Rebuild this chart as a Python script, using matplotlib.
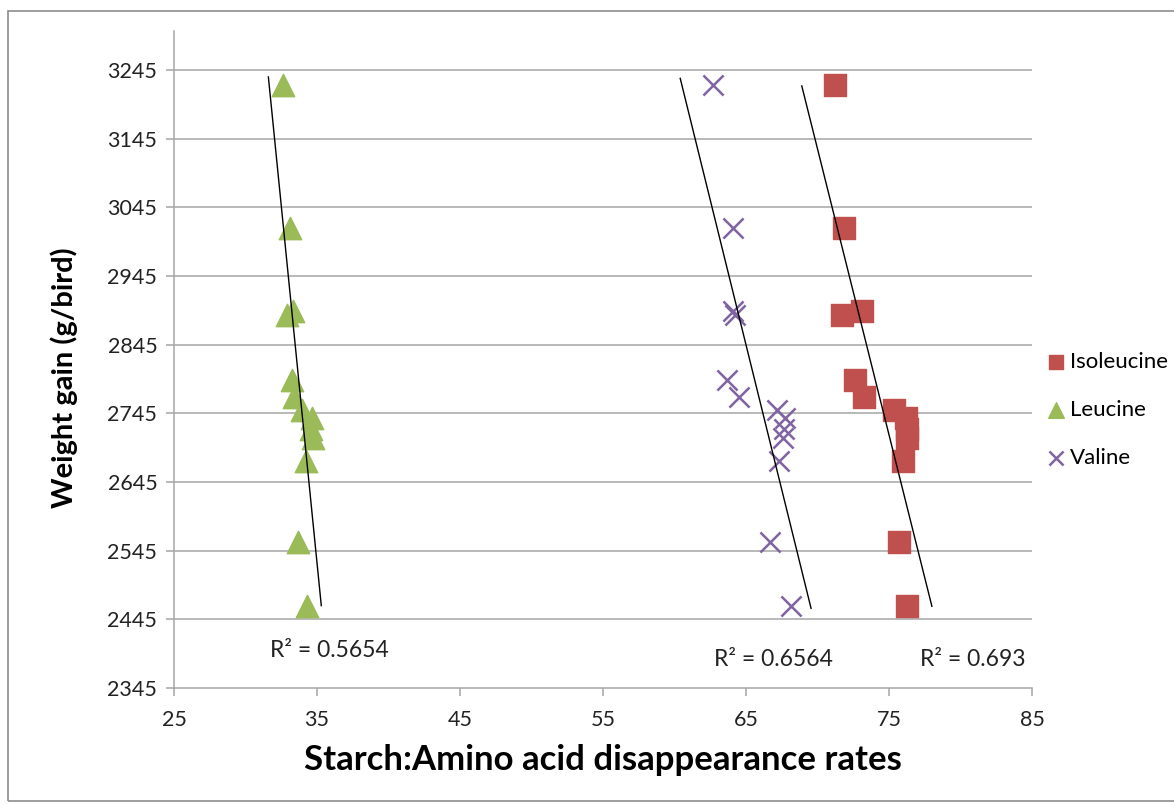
import matplotlib.pyplot as plt
from matplotlib.patches import Rectangle

plt.rcParams['font.family'] = ['Lato', 'DejaVu Sans']

# weight gain values shared by all three series (g/bird)
weight = [3223, 3015, 2894, 2889, 2793, 2769, 2750, 2738, 2722, 2709, 2676, 2557, 2464]

isoleucine_x = [71.2, 71.85, 73.1, 71.7, 72.6, 73.25, 75.35, 76.2, 76.25, 76.25, 76.0, 75.7, 76.25]
leucine_x = [32.6, 33.1, 33.3, 32.9, 33.25, 33.4, 33.95, 34.65, 34.6, 34.7, 34.25, 33.7, 34.3]
valine_x = [62.7, 64.1, 64.1, 64.2, 63.7, 64.5, 67.2, 67.75, 67.65, 67.6, 67.3, 66.7, 68.15]

# trendline end points: (x0, x1), (y0, y1)
trend_leu = ([31.6, 35.3], [3235, 2465])
trend_val = ([60.4, 69.55], [3233, 2461])
trend_iso = ([68.9, 78.0], [3222, 2464])

r2_labels = ["R\u00b2 = 0.5654", "R\u00b2 = 0.6564", "R\u00b2 = 0.693"]
r2_x = [31.7, 62.75, 77.15]
r2_y = [2399, 2386, 2386]

fig = plt.figure(figsize=(11.74, 8.05), dpi=100)
fig.patches.append(Rectangle((8 / 1174, 4 / 805), 1.2, 790 / 805, transform=fig.transFigure,
                             fill=False, edgecolor='#8c8c8c', linewidth=1.2))
ax = fig.add_axes([174 / 1174, 117 / 805, 858 / 1174, 657 / 805])

grid_c = '#a6a6a6'
ax.set_xlim(25, 85)
ax.set_ylim(2345, 3302)
ax.set_xticks(range(25, 86, 10))
ax.set_yticks(range(2345, 3246, 100))
for yv in range(2445, 3246, 100):
    ax.axhline(yv, color=grid_c, linewidth=1.1, zorder=0)

for s in ['top', 'right']:
    ax.spines[s].set_visible(False)
for s in ['left', 'bottom']:
    ax.spines[s].set_color(grid_c)
    ax.spines[s].set_linewidth(1.1)
ax.tick_params(axis='both', direction='out', length=6, color=grid_c, width=1.1,
               labelsize=15.5, labelcolor='#222222')
ax.tick_params(axis='x', pad=10)
ax.tick_params(axis='y', pad=6)

ax.scatter(isoleucine_x, weight, marker='s', s=230, color='#C0504D', label='Isoleucine', zorder=3)
ax.scatter(leucine_x, weight, marker='^', s=260, color='#9BBB59', label='Leucine', zorder=3)
ax.scatter(valine_x, weight, marker='x', s=210, color='#8064A2', linewidths=1.8, label='Valine', zorder=3)

for tx, ty in [trend_leu, trend_val, trend_iso]:
    ax.plot(tx, ty, color='black', linewidth=1.0, zorder=4)

for lab, xv, yv in zip(r2_labels, r2_x, r2_y):
    ax.text(xv, yv, lab, fontsize=16.5, va='center', ha='left', color='#222222')

ax.set_xlabel('Starch:Amino acid disappearance rates', fontsize=25, fontweight='bold', labelpad=10)
ax.set_ylabel('Weight gain (g/bird)', fontsize=21, fontweight='bold')
ax.yaxis.set_label_coords(-0.112, 0.473)

leg = ax.legend(loc='center left', bbox_to_anchor=(1034 / 1174, 395 / 805), bbox_transform=fig.transFigure,
                frameon=False, fontsize=16, handletextpad=0.0, labelspacing=1.25, markerscale=0.7,
                handlelength=1.2, borderaxespad=0)

fig.savefig('out.png', dpi=100)
